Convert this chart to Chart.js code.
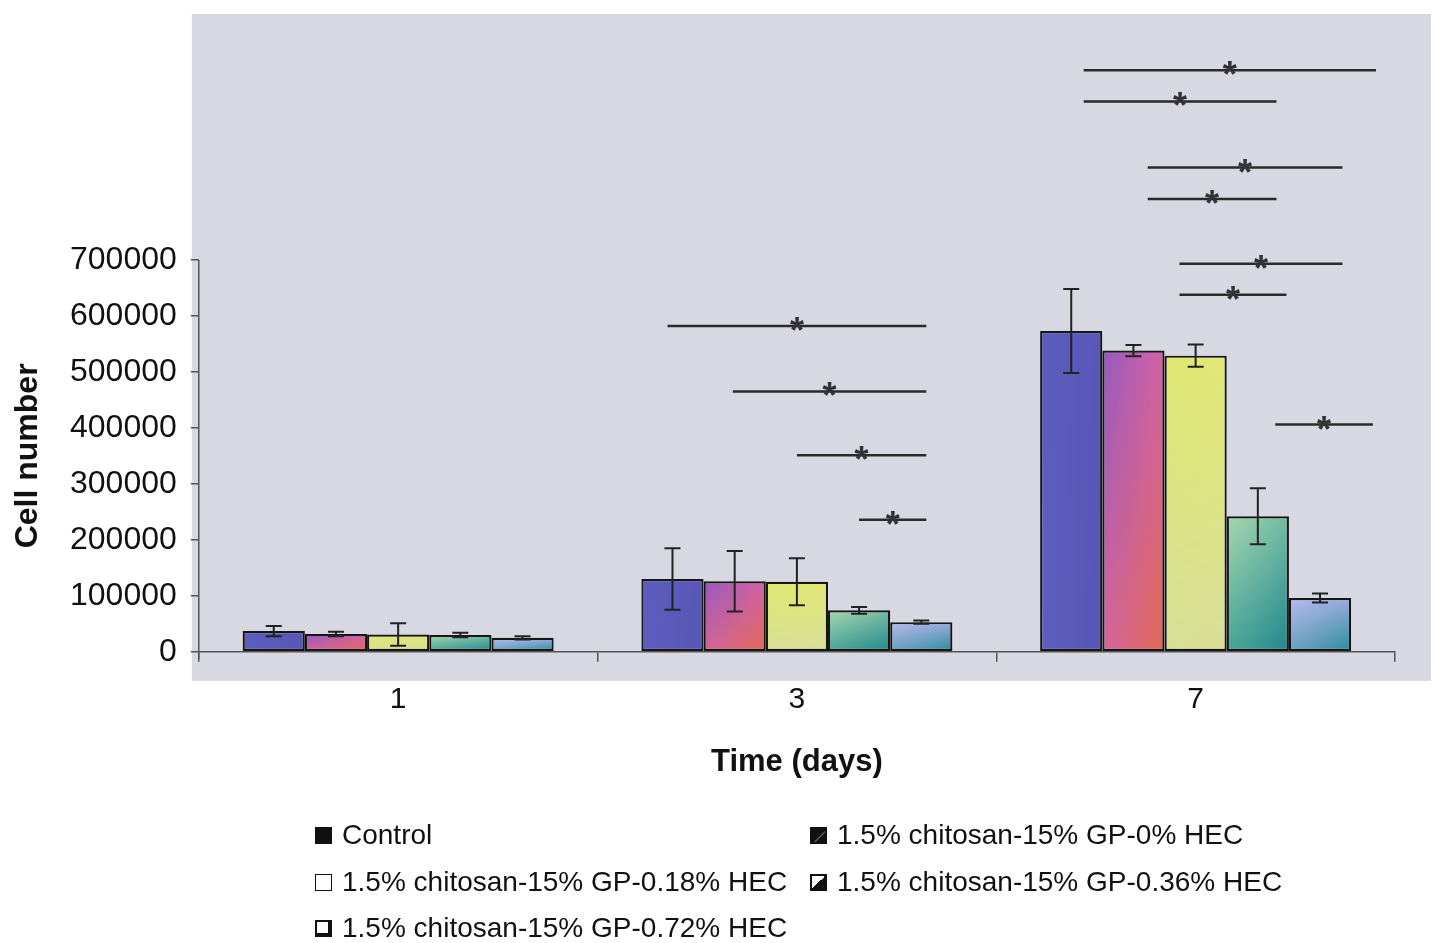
<!DOCTYPE html>
<html>
<head>
<meta charset="utf-8">
<title>Cell number over time</title>
<script src="https://cdn.jsdelivr.net/npm/chart.js@4.4.1/dist/chart.umd.min.js"></script>
<style>
    html, body { margin: 0; padding: 0; background: #fff; }
    #wrap { position: relative; width: 1434px; height: 943px; overflow: hidden; }
    #cellChart { position: absolute; left: 0; top: 0; }
    .legend-item {
        position: absolute;
        display: flex;
        align-items: center;
        height: 34px;
        font-family: "Liberation Sans", Arial, sans-serif;
        font-size: 28px;
        color: #111;
        white-space: nowrap;
    }
    .swatch {
        width: 17px;
        height: 17px;
        box-sizing: border-box;
        border: 2px solid #111;
        background: #fff;
        margin-right: 10px;
        flex: none;
    }
</style>
</head>
<body>
<div id="wrap">
    <canvas id="cellChart" width="1434" height="943"></canvas>
    <div id="legend"></div>
</div>
<script>
const days = ['1', '3', '7'];
const seriesNames = [
    'Control',
    '1.5% chitosan-15% GP-0% HEC',
    '1.5% chitosan-15% GP-0.18% HEC',
    '1.5% chitosan-15% GP-0.36% HEC',
    '1.5% chitosan-15% GP-0.72% HEC'
];

// mean cell number per day
const controlMean = [37000, 130000, 573000];
const hec0Mean = [32000, 126000, 538000];
const hec018Mean = [31000, 125000, 529000];
const hec036Mean = [30000, 74000, 242000];
const hec072Mean = [25000, 53000, 96000];

// standard deviations
const controlErr = [9000, 55000, 75000];
const hec0Err = [4000, 54000, 10000];
const hec018Err = [20000, 42000, 20000];
const hec036Err = [4000, 6000, 50000];
const hec072Err = [3000, 3000, 8000];

const yTickMax = 700000;

// significance brackets: day index, start/end bar slot, height
const sigDay = [1, 1, 1, 1, 2, 2, 2, 2, 2, 2, 2];
const sigFrom = [-0.08, 0.97, 2.0, 3.0, 0.2, 0.2, 1.23, 1.23, 1.74, 1.74, 3.28];
const sigTo = [4.08, 4.08, 4.08, 4.08, 4.9, 3.3, 4.36, 3.3, 4.36, 3.46, 4.85];
const sigLevel = [582000, 465000, 351000, 236000, 1039000, 983000, 865000, 809000, 693000, 638000, 406000];

const means = [controlMean, hec0Mean, hec018Mean, hec036Mean, hec072Mean];
const errs = [controlErr, hec0Err, hec018Err, hec036Err, hec072Err];

// corner colours for each bar fill: top-left, top-right, bottom-left, bottom-right
const fills = [
    [[92, 92, 190], [88, 88, 184], [94, 94, 190], [86, 86, 180]],
    [[150, 90, 190], [214, 98, 166], [214, 100, 156], [226, 106, 82]],
    [[222, 232, 112], [226, 232, 118], [214, 224, 150], [216, 222, 150]],
    [[166, 214, 176], [112, 186, 162], [72, 166, 152], [34, 134, 140]],
    [[180, 186, 236], [150, 170, 222], [110, 160, 194], [40, 140, 150]]
];

const FONT = '"Liberation Sans", Arial, sans-serif';
Chart.defaults.font.family = FONT;
Chart.defaults.color = '#111';

function cornerPattern(ctx, left, top, w, h, c) {
    const pad = 2;
    const W = Math.max(1, Math.ceil(w) + pad * 2);
    const H = Math.max(1, Math.ceil(h) + pad * 2);
    const off = document.createElement('canvas');
    off.width = W;
    off.height = H;
    const g = off.getContext('2d');
    const img = g.createImageData(W, H);
    for (let py = 0; py < H; py++) {
        const v = Math.min(1, Math.max(0, (py - pad) / Math.max(1, h)));
        for (let px = 0; px < W; px++) {
            const u = Math.min(1, Math.max(0, (px - pad) / Math.max(1, w)));
            const k = (py * W + px) * 4;
            for (let ch = 0; ch < 3; ch++) {
                const topC = c[0][ch] * (1 - u) + c[1][ch] * u;
                const botC = c[2][ch] * (1 - u) + c[3][ch] * u;
                img.data[k + ch] = Math.round(topC * (1 - v) + botC * v);
            }
            img.data[k + 3] = 255;
        }
    }
    g.putImageData(img, 0, 0);
    const pat = ctx.createPattern(off, 'no-repeat');
    pat.setTransform(new DOMMatrix([1, 0, 0, 1, left - pad, top - pad]));
    return pat;
}

const plotBackground = {
    id: 'plotBackground',
    beforeDraw(chart) {
        const { ctx, chartArea: a } = chart;
        ctx.save();
        ctx.fillStyle = '#d7d8e1';
        ctx.fillRect(a.left - 7, a.top - 22, a.right + 36 - (a.left - 7), a.bottom + 29 - (a.top - 22));
        ctx.restore();
    }
};

const barFills = {
    id: 'barFills',
    beforeDatasetsDraw(chart) {
        chart.data.datasets.forEach((ds, d) => {
            chart.getDatasetMeta(d).data.forEach(bar => {
                const p = bar.getProps(['x', 'y', 'base', 'width'], true);
                const left = p.x - p.width / 2;
                const top = Math.min(p.y, p.base);
                const h = Math.abs(p.base - p.y);
                bar.options.backgroundColor = cornerPattern(chart.ctx, left, top, p.width, h, fills[d]);
            });
        });
    }
};

const errorBars = {
    id: 'errorBars',
    afterDatasetsDraw(chart) {
        const { ctx } = chart;
        const y = chart.scales.y;
        ctx.save();
        ctx.strokeStyle = '#222';
        ctx.lineWidth = 2;
        chart.data.datasets.forEach((ds, d) => {
            chart.getDatasetMeta(d).data.forEach((bar, i) => {
                const hi = y.getPixelForValue(means[d][i] + errs[d][i]);
                const lo = y.getPixelForValue(means[d][i] - errs[d][i]);
                ctx.beginPath();
                ctx.moveTo(bar.x, hi);
                ctx.lineTo(bar.x, lo);
                ctx.moveTo(bar.x - 8, hi);
                ctx.lineTo(bar.x + 8, hi);
                ctx.moveTo(bar.x - 8, lo);
                ctx.lineTo(bar.x + 8, lo);
                ctx.stroke();
            });
        });
        ctx.restore();
    }
};

const significance = {
    id: 'significance',
    afterDatasetsDraw(chart) {
        const { ctx } = chart;
        const y = chart.scales.y;
        ctx.save();
        ctx.strokeStyle = '#2a2a2a';
        ctx.fillStyle = '#333';
        ctx.lineWidth = 2.5;
        ctx.font = 'bold 36px ' + FONT;
        ctx.textAlign = 'center';
        ctx.textBaseline = 'alphabetic';
        sigLevel.forEach((lvl, s) => {
            const g = sigDay[s];
            const x0 = chart.getDatasetMeta(0).data[g].x;
            const step = chart.getDatasetMeta(1).data[g].x - x0;
            const xa = x0 + sigFrom[s] * step;
            const xb = x0 + sigTo[s] * step;
            const py = y.getPixelForValue(lvl);
            ctx.beginPath();
            ctx.moveTo(xa, py);
            ctx.lineTo(xb, py);
            ctx.stroke();
            ctx.fillText('*', (xa + xb) / 2, py + 17);
        });
        ctx.restore();
    }
};

const axisDecor = {
    id: 'axisDecor',
    afterDraw(chart) {
        const { ctx, chartArea: a } = chart;
        const y = chart.scales.y;
        const zero = y.getPixelForValue(0);
        const topTick = y.getPixelForValue(yTickMax);
        ctx.save();
        ctx.strokeStyle = '#555';
        ctx.lineWidth = 1.5;
        ctx.beginPath();
        ctx.moveTo(a.left, topTick);
        ctx.lineTo(a.left, zero + 7);
        ctx.stroke();

        ctx.translate(28, (zero + topTick) / 2);
        ctx.rotate(-Math.PI / 2);
        ctx.fillStyle = '#111';
        ctx.font = 'bold 32px ' + FONT;
        ctx.textAlign = 'center';
        ctx.textBaseline = 'middle';
        ctx.fillText('Cell number', 0, 0);
        ctx.restore();
    }
};

const ctxBars = document.getElementById('cellChart').getContext('2d');

new Chart(ctxBars, {
    type: 'bar',
    data: {
        labels: days,
        datasets: seriesNames.map((name, d) => ({
            label: name,
            data: means[d],
            backgroundColor: () => 'rgb(' + fills[d][0].join(',') + ')',
            borderColor: '#161616',
            borderWidth: 2.2,
            borderSkipped: false,
            categoryPercentage: 0.78,
            barPercentage: 1.0
        }))
    },
    options: {
        responsive: false,
        animation: false,
        layout: {
            padding: { left: 56, right: 39, top: 36, bottom: 162 }
        },
        plugins: {
            legend: { display: false },
            tooltip: { enabled: false }
        },
        scales: {
            x: {
                ticks: { font: { size: 30 }, color: '#111', padding: 20 },
                grid: {
                    drawOnChartArea: false,
                    offset: true,
                    tickLength: 10,
                    color: '#555',
                    lineWidth: 1.5
                },
                border: { color: '#555', width: 1.5 },
                title: {
                    display: true,
                    text: 'Time (days)',
                    font: { size: 31, weight: 'bold' },
                    color: '#111',
                    padding: { top: 6, bottom: 0 }
                }
            },
            y: {
                min: 0,
                max: 1100000,
                ticks: {
                    stepSize: 100000,
                    font: { size: 32 },
                    color: '#111',
                    padding: 14,
                    callback: v => (v <= yTickMax ? String(v) : '')
                },
                grid: {
                    drawOnChartArea: false,
                    tickLength: 8,
                    lineWidth: 1.5,
                    color: c => (c.tick && c.tick.value > yTickMax ? 'rgba(0,0,0,0)' : '#555')
                },
                border: { display: false }
            }
        }
    },
    plugins: [plotBackground, barFills, errorBars, significance, axisDecor]
});

// legend laid out in two columns under the plot
const legendCols = [315, 810];
const legendRows = [835, 882, 928];
const swatchStyles = [
    'background:#111;',
    'background:linear-gradient(135deg,#111 55%,#777 60%,#111 66%);',
    'background:#fff;border-width:1.5px;',
    'background:linear-gradient(135deg,#fff 50%,#111 50%);',
    'background:#fff;border-right-width:4px;border-bottom-width:4px;'
];
const legendEl = document.getElementById('legend');
seriesNames.forEach((name, i) => {
    const item = document.createElement('div');
    item.className = 'legend-item';
    item.style.left = legendCols[i % 2] + 'px';
    item.style.top = (legendRows[Math.floor(i / 2)] - 17) + 'px';
    const sw = document.createElement('span');
    sw.className = 'swatch';
    sw.style.cssText = swatchStyles[i];
    const txt = document.createElement('span');
    txt.textContent = name;
    item.appendChild(sw);
    item.appendChild(txt);
    legendEl.appendChild(item);
});
</script>
</body>
</html>
